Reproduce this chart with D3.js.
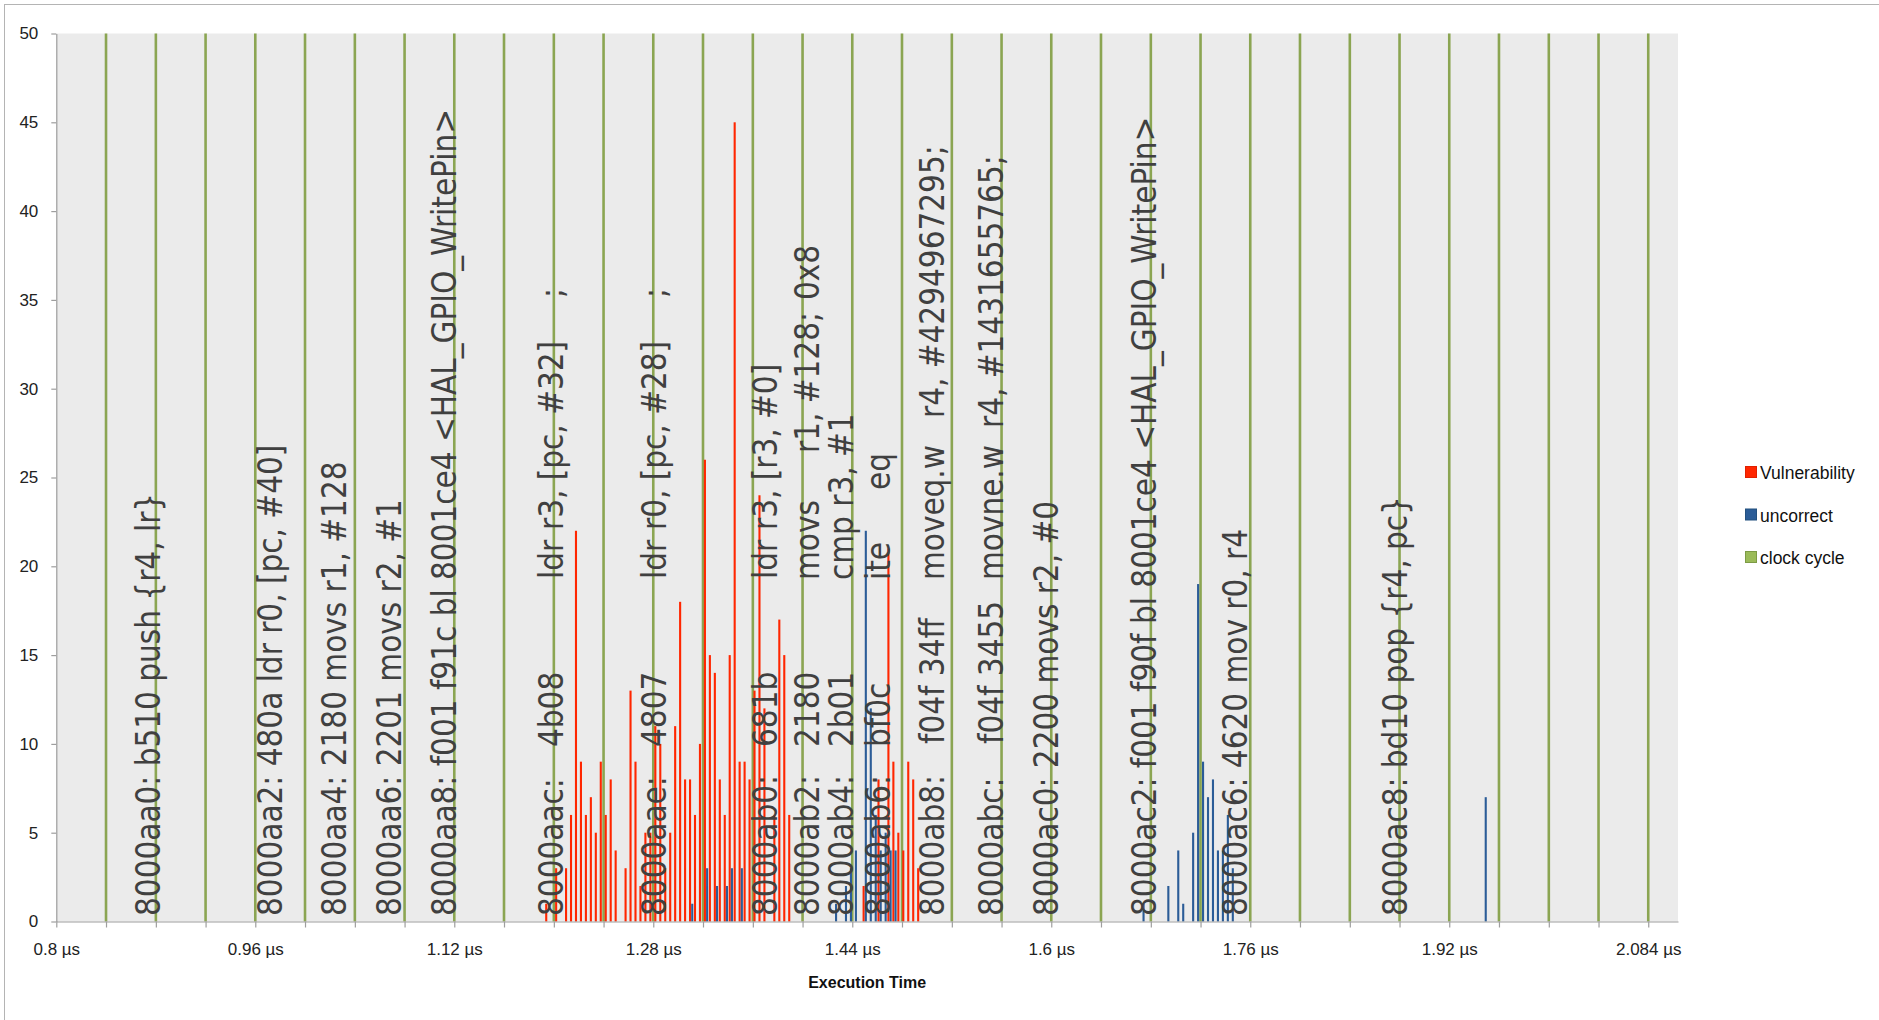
<!DOCTYPE html>
<html><head><meta charset="utf-8">
<script src="https://cdn.jsdelivr.net/npm/d3@7"></script>
<style>
html,body{margin:0;padding:0;background:#fff;}
svg{display:block;}
</style></head>
<body>
<svg id="chart" width="1879" height="1020"></svg>
<script>
// ---------------- DATA ----------------
const seriesNames = ["Vulnerability", "uncorrect", "clock cycle"];
const yTickValues = [0, 5, 10, 15, 20, 25, 30, 35, 40, 45, 50];
const xTickValues = [0.8, 0.9605, 1.121, 1.2815, 1.442, 1.6025, 1.763, 1.9235, 2.084];
const xTickLabels = ["0.8 µs", "0.96 µs", "1.12 µs", "1.28 µs", "1.44 µs", "1.6 µs", "1.76 µs", "1.92 µs", "2.084 µs"];
const xAxisTitle = "Execution Time";

const clockTimes = [0.8401, 0.8803, 0.9204, 0.9605, 1.0006, 1.0408, 1.0809, 1.121,
  1.1611, 1.2013, 1.2414, 1.2815, 1.3216, 1.3618, 1.4019, 1.442,
  1.4821, 1.5223, 1.5624, 1.6025, 1.6426, 1.6828, 1.7229, 1.763,
  1.8031, 1.8433, 1.8834, 1.9235, 1.9636, 2.0038, 2.0439, 2.084];
const clockValues = [50, 50, 50, 50, 50, 50, 50, 50, 50, 50, 50, 50, 50, 50, 50, 50,
  50, 50, 50, 50, 50, 50, 50, 50, 50, 50, 50, 50, 50, 50, 50, 50];

const vulnTimes = [1.196, 1.204, 1.212, 1.216, 1.220, 1.224, 1.228, 1.232, 1.236, 1.240,
  1.244, 1.248, 1.252, 1.260, 1.264, 1.268, 1.272, 1.276, 1.280, 1.284,
  1.288, 1.292, 1.296, 1.300, 1.304, 1.308, 1.312, 1.316, 1.320, 1.324,
  1.328, 1.332, 1.336, 1.340, 1.344, 1.348, 1.352, 1.356, 1.360, 1.364,
  1.368, 1.372, 1.380, 1.384, 1.388, 1.392,
  1.452, 1.464, 1.472, 1.476, 1.480, 1.484, 1.488, 1.492, 1.496];
const vulnValues = [1, 3, 3, 6, 22, 9, 6, 7, 5, 9,
  6, 8, 4, 3, 13, 9, 2, 5, 5, 11,
  10, 3, 5, 11, 18, 8, 8, 6, 10, 26,
  15, 14, 8, 6, 15, 45, 9, 9, 8, 13,
  24, 12, 6, 17, 15, 6,
  2, 8, 21, 9, 5, 4, 9, 8, 3];

const uncorrectTimes = [1.312, 1.324, 1.332, 1.340, 1.344, 1.352,
  1.428, 1.436, 1.440, 1.444, 1.452, 1.456, 1.460, 1.464, 1.468, 1.472, 1.476,
  1.676, 1.696, 1.704, 1.708, 1.716, 1.720, 1.724, 1.728, 1.732, 1.736, 1.740, 1.744, 1.748,
  1.952];
const uncorrectValues = [1, 3, 2, 2, 3, 3,
  1, 2, 3, 4, 22, 12, 6, 4, 5, 4, 4,
  1, 2, 4, 1, 5, 19, 9, 7, 8, 4, 4, 6, 3,
  7];

// instruction annotations (anchor time on the x axis, text pieces)
const instrTimes = [0.8836, 0.9820, 1.0337, 1.0780, 1.1224, 1.2087, 1.2917, 1.3813,
  1.4151, 1.4426, 1.4724, 1.5159, 1.5635, 1.6079, 1.6869, 1.7603, 1.8894];
const instrTexts = [
  ["8000aa0: b510 push {r4, lr}"],
  ["8000aa2: 480a ldr r0, [pc, #40]"],
  ["8000aa4: 2180 movs r1, #128"],
  ["8000aa6: 2201 movs r2, #1"],
  ["8000aa8: f001 f91c bl 8001ce4 <HAL_GPIO_WritePin>"],
  ["8000aac:", "4b08", "ldr", "r3, [pc, #32]", ";"],
  ["8000aae:", "4807", "ldr", "r0, [pc, #28]", ";"],
  ["8000ab0:", "681b", "ldr", "r3, [r3, #0]"],
  ["8000ab2:", "2180", "movs", "r1, #128;", "0x8"],
  ["8000ab4:", "2b01", "cmp r3, #1"],
  ["8000ab6:", "bf0c", "ite", "eq"],
  ["8000ab8:", "f04f 34ff", "moveq.w", "r4, #4294967295;"],
  ["8000abc:", "f04f 3455", "movne.w", "r4, #1431655765;"],
  ["8000ac0: 2200 movs r2, #0"],
  ["8000ac2: f001 f90f bl 8001ce4 <HAL_GPIO_WritePin>"],
  ["8000ac6: 4620 mov r0, r4"],
  ["8000ac8: bd10 pop {r4, pc}"]
];

// ---------------- LAYOUT ----------------
const plotL = 56.3, plotR = 1678, plotT = 33.5, plotB = 921.5;
const colors = {red: "#ff2600", blue: "#2b5c97", green: "#8ba552", greenLegend: "#9bbb59"};
// start positions (screen y, bottom of rotated text) of each text piece, per column
const segStarts = {
  5: [916, 747, 579, 530, 298],
  6: [916, 747, 579, 530, 298],
  7: [916, 747, 579, 530],
  8: [916, 747, 580, 453, 300],
  9: [916, 747, 580],
  10: [916, 747, 580, 490],
  11: [916, 744, 580, 418],
  12: [916, 744, 580, 428]
};

const svg = d3.select("#chart");
const x = d3.scaleLinear().domain([0.8, 2.108]).range([plotL, plotR]);
const y = d3.scaleLinear().domain([0, 50]).range([plotB, plotT]);

// outer border
svg.append("rect").attr("x", 4.5).attr("y", 4.5).attr("width", 1900).attr("height", 1100)
  .attr("fill", "#fff").attr("stroke", "#b4b4b4").attr("stroke-width", 1);

// plot background
svg.append("rect").attr("x", x(0.8)).attr("y", y(50))
  .attr("width", x(2.108) - x(0.8)).attr("height", y(0) - y(50)).attr("fill", "#ebebeb");

// clock cycle lines
const clockData = clockTimes.map((t, i) => ({t, v: clockValues[i]}));
svg.append("g").selectAll("rect").data(clockData).join("rect")
  .attr("x", d => x(d.t) - 1.3).attr("width", 2.6)
  .attr("y", d => y(d.v)).attr("height", d => y(0) - y(d.v))
  .attr("fill", colors.green);

// vulnerability bars
const vulnData = vulnTimes.map((t, i) => ({t, v: vulnValues[i]}));
svg.append("g").selectAll("rect").data(vulnData).join("rect")
  .attr("x", d => x(d.t) - 2.1).attr("width", 2.1)
  .attr("y", d => y(d.v)).attr("height", d => y(0) - y(d.v))
  .attr("fill", colors.red);

// uncorrect bars
const uncData = uncorrectTimes.map((t, i) => ({t, v: uncorrectValues[i]}));
svg.append("g").selectAll("rect").data(uncData).join("rect")
  .attr("x", d => x(d.t) + 0.1).attr("width", 2.1)
  .attr("y", d => y(d.v)).attr("height", d => y(0) - y(d.v))
  .attr("fill", colors.blue);

// axes
const xAxis = d3.axisBottom(x).tickValues([0.8].concat(clockTimes)).tickSize(6).tickSizeOuter(0)
  .tickFormat(d => {
    const i = xTickValues.findIndex(v => Math.abs(v - d) < 0.0005);
    return i >= 0 ? xTickLabels[i] : "";
  });
const gx = svg.append("g").attr("transform", `translate(0,${plotB})`).call(xAxis);
gx.select(".domain").attr("stroke", "#9e9e9e").attr("stroke-width", 1.2);
gx.selectAll(".tick line").attr("stroke", "#9e9e9e").attr("stroke-width", 1.2);
gx.selectAll(".tick text").attr("y", 33).attr("dy", 0)
  .attr("font-family", "Liberation Sans, Arial, sans-serif").attr("font-size", 17).attr("fill", "#222");

const yAxis = d3.axisLeft(y).tickValues(yTickValues).tickSize(5).tickPadding(13).tickSizeOuter(0);
const gy = svg.append("g").attr("transform", `translate(${plotL},0)`).call(yAxis);
gy.select(".domain").attr("stroke", "#9e9e9e").attr("stroke-width", 1.2);
gy.selectAll(".tick line").attr("stroke", "#9e9e9e").attr("stroke-width", 1.2);
gy.selectAll(".tick text").attr("font-family", "Liberation Sans, Arial, sans-serif")
  .attr("font-size", 17).attr("fill", "#222");

// axis title
svg.append("text").attr("x", (x(0.8) + x(2.108)) / 2).attr("y", 988)
  .attr("text-anchor", "middle").attr("font-family", "Liberation Sans, Arial, sans-serif")
  .attr("font-weight", "bold").attr("font-size", 16).attr("fill", "#111").text(xAxisTitle);

// instruction annotations (rotated)
const ann = svg.append("g").attr("font-family", "DejaVu Sans, sans-serif")
  .attr("font-size", 34).attr("fill", "#404040");
instrTexts.forEach((pieces, i) => {
  const bx = x(instrTimes[i]);
  const starts = segStarts[i] || [916];
  pieces.forEach((p, j) => {
    ann.append("text")
      .attr("transform", `translate(${bx},${starts[j]}) rotate(-90) scale(0.87,1)`)
      .attr("x", 0).attr("y", 0).style("white-space", "pre").text(p);
  });
});

// legend
const legendColors = [colors.red, colors.blue, colors.greenLegend];
const legendStroke = ["#e02000", "#23507f", "#7d9b45"];
const legendY = [473, 515.5, 558];
const lg = svg.append("g");
seriesNames.forEach((name, i) => {
  lg.append("rect").attr("x", 1745.5).attr("y", legendY[i] - 6.5).attr("width", 11).attr("height", 11)
    .attr("fill", legendColors[i]).attr("stroke", legendStroke[i]).attr("stroke-width", 1);
  lg.append("text").attr("x", 1760).attr("y", legendY[i] + 6)
    .attr("font-family", "Liberation Sans, Arial, sans-serif").attr("font-size", 17.5)
    .attr("fill", "#111").text(name);
});
</script>
</body></html>
